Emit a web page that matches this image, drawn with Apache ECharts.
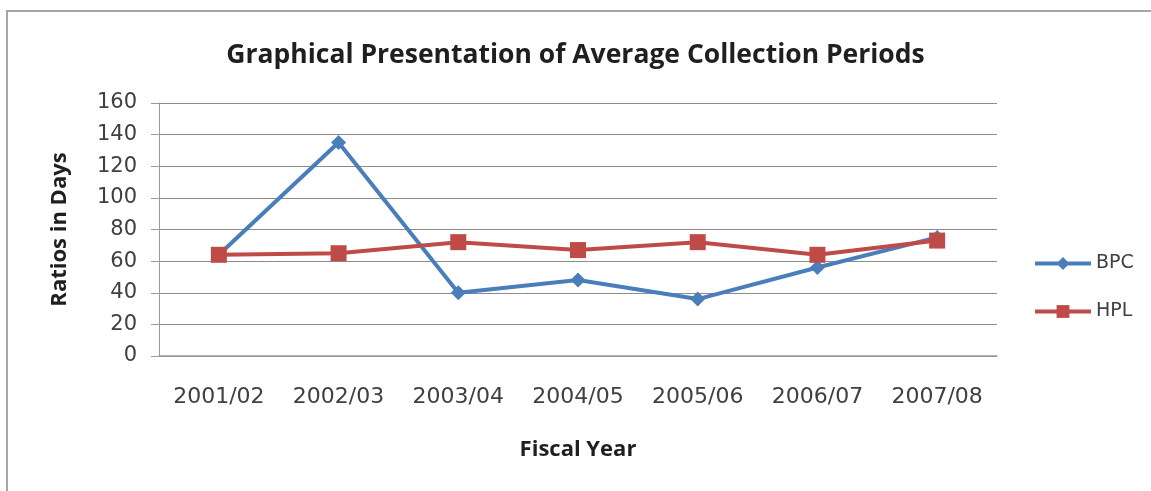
<!DOCTYPE html>
<html>
<head>
<meta charset="utf-8">
<script src="https://cdn.jsdelivr.net/npm/echarts@6/dist/echarts.min.js"></script>
<style>
  html, body { margin: 0; padding: 0; background: #fff; }
  #chart { width: 1151px; height: 491px; }
</style>
</head>
<body>
<div id="chart"></div>
<script>
// Fiscal years and average collection periods (days)
const fiscalYears = ['2001/02', '2002/03', '2003/04', '2004/05', '2005/06', '2006/07', '2007/08'];
const bpcDays = [64, 135, 40, 48, 36, 56, 75];
const hplDays = [64, 65, 72, 67, 72, 64, 73];
const yTicks = [0, 20, 40, 60, 80, 100, 120, 140, 160];

const HEAD_FONT = '"Open Sans", "Liberation Sans", sans-serif';
const TICK_FONT = '"DejaVu Sans", "Open Sans", sans-serif';
const TEXT = '#404040';
const DARK = '#1f1f1f';

const chart = echarts.init(document.getElementById('chart'), null, { renderer: 'canvas' });

chart.setOption({
  animation: false,
  backgroundColor: '#ffffff',
  graphic: [{
    type: 'rect',
    shape: { x: 7, y: 11, width: 1300, height: 700 },
    style: { fill: 'none', stroke: '#a6a6a6', lineWidth: 2 },
    silent: true,
    z: -1
  }],
  title: {
    text: 'Graphical Presentation of Average Collection Periods',
    left: 'center',
    top: 37,
    padding: [5, 0, 5, 16],
    textStyle: { fontFamily: HEAD_FONT, fontWeight: 'bold', fontSize: 26.5, color: DARK }
  },
  legend: {
    orient: 'vertical',
    left: 1028,
    top: 249,
    itemGap: 29,
    itemWidth: 56,
    itemHeight: 16,
    lineStyle: { width: 4 },
    textStyle: { fontFamily: TICK_FONT, fontSize: 19, color: TEXT },
    data: ['BPC', 'HPL']
  },
  grid: { left: 159, top: 103, right: 154, bottom: 135 },
  xAxis: {
    type: 'category',
    data: fiscalYears,
    boundaryGap: true,
    name: 'Fiscal Year',
    nameLocation: 'middle',
    nameGap: 83,
    nameTextStyle: { fontFamily: HEAD_FONT, fontWeight: 'bold', fontSize: 22, color: DARK },
    axisLine: { lineStyle: { color: '#9a9a9a', width: 1.5 } },
    axisTick: { show: false },
    axisLabel: { fontFamily: TICK_FONT, fontSize: 22, color: TEXT, margin: 30 }
  },
  yAxis: {
    type: 'value',
    min: yTicks[0],
    max: yTicks[yTicks.length - 1],
    interval: yTicks[1] - yTicks[0],
    name: 'Ratios in Days',
    nameLocation: 'middle',
    nameGap: 88,
    nameRotate: 90,
    nameTextStyle: { fontFamily: HEAD_FONT, fontWeight: 'bold', fontSize: 22, color: DARK },
    axisLine: { show: true, lineStyle: { color: '#9a9a9a', width: 1 } },
    axisTick: { show: true, length: 8, lineStyle: { color: '#9a9a9a' } },
    axisLabel: { fontFamily: TICK_FONT, fontSize: 21, color: TEXT, margin: 22 },
    splitLine: { lineStyle: { color: '#8c8c8c', width: 1 } }
  },
  series: [
    {
      name: 'BPC',
      type: 'line',
      data: bpcDays,
      symbol: 'diamond',
      symbolSize: 15,
      lineStyle: { color: '#4a7ebb', width: 4 },
      itemStyle: { color: '#4a7ebb' },
      z: 2
    },
    {
      name: 'HPL',
      type: 'line',
      data: hplDays,
      symbol: 'rect',
      symbolSize: 16,
      lineStyle: { color: '#be4b48', width: 4 },
      itemStyle: { color: '#be4b48' },
      z: 3
    }
  ]
});
</script>
</body>
</html>
